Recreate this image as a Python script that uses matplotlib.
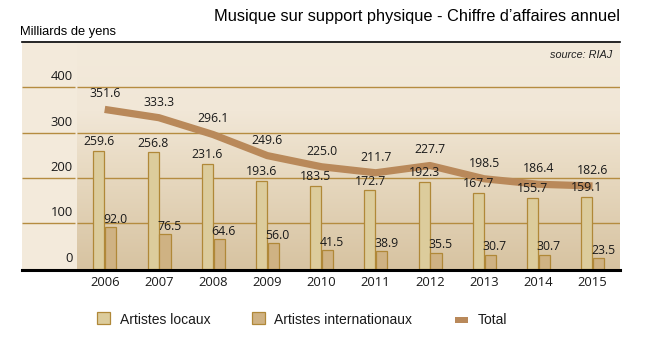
import numpy as np
import matplotlib
matplotlib.use("Agg")
import matplotlib.pyplot as plt
from matplotlib.patches import Rectangle
from matplotlib.lines import Line2D
from matplotlib.colors import LinearSegmentedColormap

# --- data (billions of yen) ---
years = ["2006", "2007", "2008", "2009", "2010", "2011", "2012", "2013", "2014", "2015"]
local_artists = [259.6, 256.8, 231.6, 193.6, 183.5, 172.7, 192.3, 167.7, 155.7, 159.1]
intl_artists = [92.0, 76.5, 64.6, 56.0, 41.5, 38.9, 35.5, 30.7, 30.7, 23.5]
total = [351.6, 333.3, 296.1, 249.6, 225.0, 211.7, 227.7, 198.5, 186.4, 182.6]
yticks = [0, 100, 200, 300, 400]

# --- styling ---
BG = "#f3eadb"
GRID = "#b58c40"
LOCAL_FC = "#dccc9c"
INTL_FC = "#cfb283"
BAR_EC = "#b08838"
LINE_C = "#b9895a"
NUM_FONT = ["Open Sans", "DejaVu Sans"]
ARIAL = ["Liberation Sans", "DejaVu Sans"]

W, H = 645, 350
fig = plt.figure(figsize=(W / 100, H / 100), dpi=100)
fig.patch.set_facecolor("white")

# panel spans x 22..620 px, y 43..270 px
px_l, px_r, px_t, px_b = 22, 620, 43, 270
ax = fig.add_axes([px_l / W, 1 - px_b / H, (px_r - px_l) / W, (px_b - px_t) / H])
x = np.arange(len(years))
ax.set_xlim(-1.526, 9.507)
ax.set_ylim(-2.9, 498.2)
ax.set_facecolor(BG)
for s in ax.spines.values():
    s.set_visible(False)
ax.set_xticks([])
ax.set_yticks([])

# vertical gradient behind the bars
grad_cmap = LinearSegmentedColormap.from_list(
    "panel", [(0.0, "#d7c3a1"), (0.45, "#e8dac2"), (0.7, "#f1e7d7"), (1.0, BG)])
grad = np.linspace(0, 1, 256).reshape(-1, 1)
ax.imshow(grad, cmap=grad_cmap, origin="lower", aspect="auto",
          extent=[-0.511, 9.507, -2.9, 498.2], zorder=0.5)

# horizontal gridlines with a small gap next to the tick labels
for v in yticks[1:]:
    ax.plot([-1.526, -0.55], [v, v], color=GRID, lw=1.0, zorder=1, solid_capstyle="butt")
    ax.plot([-0.511, 9.507], [v, v], color=GRID, lw=1.0, zorder=1, solid_capstyle="butt")
for v in yticks:
    ax.text(-0.59, v + 9, f"{v}", ha="right", va="bottom", fontsize=9.4,
            family=NUM_FONT, color="#1a1a1a", zorder=5)

# bars
bw = 0.205
ax.bar(x - bw / 2 - 0.005, local_artists, width=bw, color=LOCAL_FC, edgecolor=BAR_EC,
       linewidth=0.9, zorder=2)
ax.bar(x + bw / 2 + 0.01, intl_artists, width=bw, color=INTL_FC, edgecolor=BAR_EC,
       linewidth=0.9, zorder=2)

# total line
ax.plot(x, total, color=LINE_C, lw=5.2, solid_joinstyle="round",
        solid_capstyle="butt", zorder=3)

# value labels
for i in range(len(years)):
    ax.text(x[i] - bw / 2, local_artists[i] + 6, f"{local_artists[i]:.1f}",
            ha="center", va="bottom", fontsize=8.8, family=NUM_FONT, color="#1a1a1a", zorder=6)
    ax.text(x[i] - 0.03, intl_artists[i] + 3, f"{intl_artists[i]:.1f}",
            ha="left", va="bottom", fontsize=8.8, family=NUM_FONT, color="#1a1a1a", zorder=6)
    ax.text(x[i], total[i] + 20, f"{total[i]:.1f}",
            ha="center", va="bottom", fontsize=8.8, family=NUM_FONT, color="#1a1a1a", zorder=6)

# year labels below the baseline
for i, yr in enumerate(years):
    ax.text(x[i], -31, yr, ha="center", va="center", fontsize=9.4,
            family=NUM_FONT, color="#1a1a1a", clip_on=False)

# baseline and top rule
fig.add_artist(Line2D([px_l / W, px_r / W], [1 - 269.5 / H] * 2, color="black", lw=2.2))
fig.add_artist(Line2D([px_l / W, px_r / W], [1 - 42 / H] * 2, color="black", lw=1.2))

# titles
fig.text(620 / W, 1 - 17 / H, "Musique sur support physique - Chiffre d\u2019affaires annuel",
         ha="right", va="center", fontsize=11.8, family=ARIAL, color="black")
fig.text(20 / W, 1 - 32 / H, "Milliards de yens", ha="left", va="center",
         fontsize=9.3, family=ARIAL, color="black")
fig.text(612 / W, 1 - 55 / H, "source: RIAJ", ha="right", va="center",
         fontsize=7.8, family=ARIAL, style="italic", color="#222222")

# legend
ly = 1 - 319.5 / H
fig.add_artist(Rectangle((97 / W, 1 - 324 / H), 13 / W, 12 / H, facecolor=LOCAL_FC,
                         edgecolor=BAR_EC, lw=0.9, transform=fig.transFigure))
fig.text(120 / W, ly, "Artistes locaux", ha="left", va="center", fontsize=10,
         family=ARIAL, color="#1a1a1a")
fig.add_artist(Rectangle((252 / W, 1 - 324 / H), 13 / W, 12 / H, facecolor=INTL_FC,
                         edgecolor=BAR_EC, lw=0.9, transform=fig.transFigure))
fig.text(274 / W, ly, "Artistes internationaux", ha="left", va="center", fontsize=10,
         family=ARIAL, color="#1a1a1a")
fig.add_artist(Rectangle((455 / W, 1 - 322.5 / H), 13 / W, 5.5 / H, facecolor=LINE_C,
                         edgecolor="none", transform=fig.transFigure))
fig.text(478 / W, ly, "Total", ha="left", va="center", fontsize=10,
         family=ARIAL, color="#1a1a1a")

fig.savefig("out.png", dpi=100, facecolor="white")
